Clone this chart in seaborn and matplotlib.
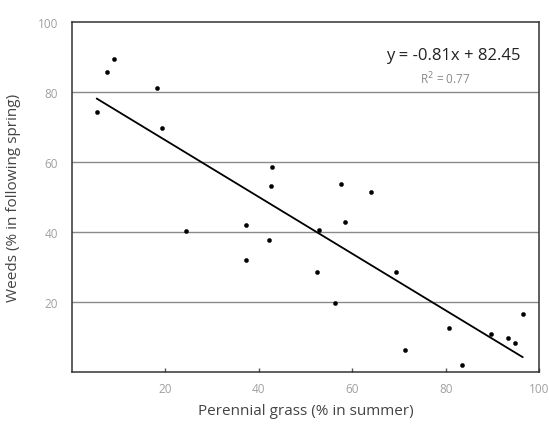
import numpy as np
import pandas as pd
import matplotlib
matplotlib.use("Agg")
import matplotlib.pyplot as plt
import seaborn as sns

# valores
grass = [5.3, 7.5, 9.0, 18.3, 19.3, 24.5, 37.3, 37.3, 42.1, 42.6, 42.8,
         52.5, 52.9, 56.3, 57.7, 58.4, 64.0, 69.4, 71.2, 80.7, 83.6,
         89.6, 93.3, 94.9, 96.5]
weeds = [74.4, 85.7, 89.4, 81.3, 69.8, 40.2, 42.1, 32.0, 37.7, 53.1, 58.5,
         28.7, 40.7, 19.8, 53.7, 42.9, 51.5, 28.7, 6.3, 12.5, 2.0,
         10.8, 9.7, 8.2, 16.6]
pendiente, intercepto, r2 = -0.81, 82.45, 0.77
ticks = [20, 40, 60, 80, 100]

df = pd.DataFrame({'grass': grass, 'weeds': weeds})

sns.set_style("white")
plt.rcParams['font.family'] = ['Open Sans', 'DejaVu Sans']

fig = plt.figure(figsize=(5.49, 4.27), dpi=100)
ax = fig.add_axes([0.131, 0.126, 0.851, 0.820])

for t in ticks[:-1]:
    ax.axhline(t, color='#8a8a8a', lw=1.0, zorder=1)

sns.scatterplot(data=df, x='grass', y='weeds', ax=ax, color='black', s=9,
                marker='o', edgecolor='black', linewidth=0.3, zorder=3)

xs = np.linspace(df['grass'].min(), df['grass'].max(), 50)
sns.lineplot(x=xs, y=pendiente * xs + intercepto, ax=ax, color='black', lw=1.3, zorder=2)

ax.set_xlim(0, 100)
ax.set_ylim(0, 100)
ax.set_xticks(ticks)
ax.set_yticks(ticks)
ax.set_xticklabels([str(t) for t in ticks], color='#a0a0a0', fontsize=8.5)
ax.set_yticklabels([str(t) for t in ticks], color='#a0a0a0', fontsize=8.5)
ax.tick_params(axis='x', bottom=True, direction='in', length=3, width=1, color='#555555', pad=7)
ax.tick_params(axis='y', length=0, pad=10)

for s in ax.spines.values():
    s.set_color('#333333')
    s.set_linewidth(1.1)

ax.set_xlabel('Perennial grass (% in summer)', fontsize=11, color='#444444', labelpad=6)
ax.set_ylabel('Weeds (% in following spring)', fontsize=11, color='#444444', labelpad=12)

ax.text(0.96, 0.905, f'y = {pendiente}x + {intercepto}', transform=ax.transAxes,
        ha='right', va='center', fontsize=12, color='#222222')
ax.text(0.80, 0.84, f'R$^2$ = {r2}', transform=ax.transAxes,
        ha='center', va='center', fontsize=8.5, color='#8a8a8a')

fig.savefig('out.png', dpi=100)
